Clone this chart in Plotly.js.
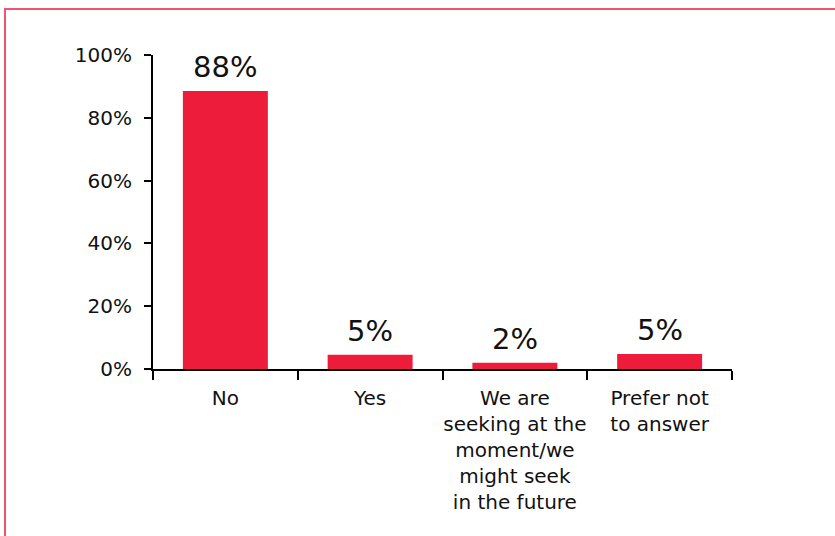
<!DOCTYPE html>
<html>
<head>
<meta charset="utf-8">
<script src="https://cdn.plot.ly/plotly-3.0.1.min.js"></script>
<style>
  html, body { margin: 0; padding: 0; background: #ffffff; overflow: hidden; }
  #frame { position: absolute; left: 4px; top: 8px; width: 900px; height: 600px;
           border-left: 2px solid #F0546E; border-top: 2px solid #F0546E; }
  #chart { position: absolute; left: 0; top: 0; width: 835px; height: 536px; }
</style>
</head>
<body>
<div id="frame"></div>
<div id="chart"></div>
<script>
const categories = [
  "No",
  "Yes",
  "We are<br>seeking at the<br>moment/we<br>might seek<br>in the future",
  "Prefer not<br>to answer"
];
const values = [0.885, 0.045, 0.02, 0.048];
const valueLabels = ["88%", "5%", "2%", "5%"];
const yTickVals = [0, 0.2, 0.4, 0.6, 0.8, 1.0];
const yTickText = ["0%", "20%", "40%", "60%", "80%", "100%"];

const FONT = "DejaVu Sans, Noto Sans, sans-serif";

const trace = {
  type: "bar",
  x: categories,
  y: values,
  marker: { color: "#ED1C3A" },
  width: 0.587,
  hoverinfo: "none"
};

const annotations = categories.map((c, i) => ({
  x: c, y: values[i], xref: "x", yref: "y",
  text: valueLabels[i], showarrow: false,
  yanchor: "bottom", yshift: 5,
  font: { family: FONT, size: 29, color: "#111111" }
}));

const layout = {
  width: 835, height: 536,
  margin: { l: 153, r: 103, t: 55, b: 167 },
  paper_bgcolor: "rgba(0,0,0,0)",
  plot_bgcolor: "rgba(0,0,0,0)",
  showlegend: false,
  font: { family: FONT, color: "#111111" },
  xaxis: {
    type: "category",
    showgrid: false, zeroline: false,
    showline: true, linecolor: "#000000", linewidth: 2,
    ticks: "outside", tickson: "boundaries", ticklen: 9, tickwidth: 2, tickcolor: "#000000",
    tickangle: 0,
    tickfont: { family: FONT, size: 20, color: "#111111" },
    ticklabelstandoff: 10
  },
  yaxis: {
    range: [0, 1], showgrid: false, zeroline: false,
    showline: true, linecolor: "#000000", linewidth: 2,
    ticks: "outside", ticklen: 7, tickwidth: 2, tickcolor: "#000000",
    tickvals: yTickVals, ticktext: yTickText,
    tickfont: { family: FONT, size: 20, color: "#111111" },
    ticklabelstandoff: 8
  },
  annotations: annotations
};

Plotly.newPlot("chart", [trace], layout, { displayModeBar: false, staticPlot: true });
</script>
</body>
</html>
